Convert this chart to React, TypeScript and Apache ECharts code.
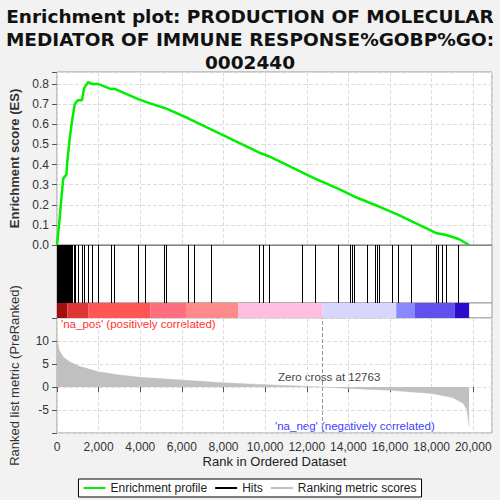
import React, { useEffect, useRef } from "react";
import * as echarts from "echarts";

const hitRanks = [20,60,100,150,200,250,300,350,400,450,500,550,600,650,700,750,850,900,1000,1200,1300,1500,1700,2000,2600,2750,3900,4250,5150,5250,6300,6600,7400,9700,9900,10200,11800,12400,13500,14100,14200,14300,14900,15300,15400,15500,16100,16400,17000,18200,18300,18500,18700,19300];
const esPoints = [[0,0],[100,0.1],[200,0.22],[300,0.33],[450,0.35],[500,0.42],[600,0.52],[700,0.6],[850,0.7],[1000,0.72],[1200,0.72],[1300,0.78],[1500,0.81],[1700,0.8],[2000,0.8],[2600,0.775],[2800,0.775],[3900,0.725],[4300,0.71],[5200,0.68],[6300,0.63],[7400,0.575],[9700,0.46],[10200,0.44],[11800,0.36],[12400,0.33],[13500,0.28],[14300,0.24],[15500,0.19],[16400,0.15],[17000,0.12],[18200,0.06],[18700,0.05],[19300,0.03],[19800,0.0]];
const metricPoints = [[0,10.5],[100,8],[300,6.5],[600,5.5],[1000,4.6],[2000,3.3],[3000,2.6],[4000,2.1],[6000,1.5],[8000,0.9],[10000,0.5],[12763,0],[14000,-0.3],[16000,-0.7],[18000,-1.4],[19000,-2.3],[19500,-3.5],[19700,-5],[19800,-8.5]];
const bandSegments: [number, number, string][] = [[0,500,"#a01010"],[500,1500,"#e03535"],[1500,4500,"#ff5555"],[4500,6200,"#ff6e7e"],[6200,8700,"#ff8a8a"],[8700,12763,"#ffbde0"],[12763,16300,"#d6d6ff"],[16300,17200,"#8888ff"],[17200,19100,"#6050ee"],[19100,19800,"#2a0dcc"]];
const zeroCross = 12763;

export default function App() {
  const ref = useRef<HTMLDivElement>(null);
  useEffect(() => {
    const chart = echarts.init(ref.current!, null, { renderer: "svg" });
    const L = 57, R = 8;
    const grids = [
      { left: L, right: R, top: 72, height: 173 },
      { left: L, right: R, top: 245, height: 58 },
      { left: L, right: R, top: 303, height: 15 },
      { left: L, right: R, top: 318, height: 115 },
    ].map(g => ({ ...g, show: true, backgroundColor: "#fff", borderColor: "#999", borderWidth: 1 }));
    const xBase = (i: number, show: boolean) => ({
      type: "value", gridIndex: i, min: 0, max: 20900, interval: 2000,
      axisLabel: { show, color: "#333", fontSize: 12, formatter: (v: number) => v.toLocaleString("en-US") },
      axisTick: { show }, axisLine: { show: false },
      splitLine: { show: i === 0 || i === 3, lineStyle: { type: "dashed", color: "#ddd" } },
      name: show ? "Rank in Ordered Dataset" : "", nameLocation: "middle", nameGap: 22,
      nameTextStyle: { fontSize: 13, color: "#222" },
    });
    chart.setOption({
      animation: false,
      backgroundColor: "#f2f2f2",
      title: {
        text: "Enrichment plot: PRODUCTION OF MOLECULAR\nMEDIATOR OF IMMUNE RESPONSE%GOBP%GO:\n0002440",
        left: "center", top: 0,
        textStyle: { fontSize: 18.5, fontWeight: "bold", color: "#111", lineHeight: 23, fontFamily: "DejaVu Sans" },
      },
      grid: grids,
      xAxis: [xBase(0, false), xBase(1, false), xBase(2, false), xBase(3, true)],
      yAxis: [
        { type: "value", gridIndex: 0, min: 0, max: 0.86, interval: 0.1, axisLine: { show: false },
          axisLabel: { color: "#333", fontSize: 12, formatter: (v: number) => (v > 0.85 ? "" : v.toFixed(1)) },
          splitLine: { lineStyle: { type: "dashed", color: "#ddd" } },
          name: "Enrichment score (ES)", nameLocation: "middle", nameGap: 36, nameTextStyle: { fontWeight: "bold", fontSize: 13, color: "#333" } },
        { type: "value", gridIndex: 1, min: 0, max: 1, show: false },
        { type: "value", gridIndex: 2, min: 0, max: 1, show: false },
        { type: "value", gridIndex: 3, min: -10, max: 15, interval: 5, axisLine: { show: false },
          axisLabel: { color: "#333", fontSize: 12, formatter: (v: number) => (v < -9 || v > 14 ? "" : String(v)) },
          splitLine: { lineStyle: { type: "dashed", color: "#ddd" } },
          name: "Ranked list metric (PreRanked)", nameLocation: "middle", nameGap: 36, nameTextStyle: { fontSize: 13, color: "#333" } },
      ],
      legend: {
        bottom: 3, left: "center", itemWidth: 22, itemHeight: 2, borderColor: "#000", borderWidth: 1,
        padding: [3, 5], backgroundColor: "#fff", textStyle: { fontSize: 12, color: "#222" },
        data: [
          { name: "Enrichment profile", icon: "rect", itemStyle: { color: "#00ee00" } },
          { name: "Hits", icon: "rect", itemStyle: { color: "#000" } },
          { name: "Ranking metric scores", icon: "rect", itemStyle: { color: "#c0c0c0" } },
        ],
      },
      series: [
        { name: "Enrichment profile", type: "line", xAxisIndex: 0, yAxisIndex: 0, data: esPoints, showSymbol: false,
          lineStyle: { color: "#00ee00", width: 2.5 }, itemStyle: { color: "#00ee00" },
          markLine: { silent: true, symbol: "none", label: { show: false }, lineStyle: { color: "#888", type: "solid", width: 1 }, data: [{ yAxis: 0 }] } },
        { name: "Hits", type: "line", xAxisIndex: 1, yAxisIndex: 1, data: [], itemStyle: { color: "#000" },
          markLine: { silent: true, symbol: "none", label: { show: false }, lineStyle: { color: "#000", type: "solid", width: 1 },
            data: hitRanks.map(r => [{ coord: [r, 0] }, { coord: [r, 1] }]) } },
        { type: "line", xAxisIndex: 2, yAxisIndex: 2, data: [],
          markArea: { silent: true, data: bandSegments.map(([a, b, c]) => [{ coord: [a, 0], itemStyle: { color: c } }, { coord: [b, 1] }]) } },
        { name: "Ranking metric scores", type: "line", xAxisIndex: 3, yAxisIndex: 3, data: metricPoints, showSymbol: false,
          lineStyle: { width: 0.5, color: "#c0c0c0" }, areaStyle: { color: "#c0c0c0", opacity: 1 }, itemStyle: { color: "#c0c0c0" },
          markLine: { silent: true, symbol: "none", label: { show: false }, lineStyle: { color: "#999", type: "dashed", width: 1 },
            data: [{ xAxis: zeroCross }] } },
      ],
      graphic: [
        { type: "text", left: 61, top: 318, style: { text: "'na_pos' (positively correlated)", fill: "#ff3030", fontSize: 11.5 } },
        { type: "text", left: 278, top: 371, style: { text: "Zero cross at 12763", fill: "#444", fontSize: 11.5 } },
        { type: "text", left: 275, top: 420, style: { text: "'na_neg' (negatively correlated)", fill: "#4040ff", fontSize: 11.5 } },
      ],
    });
    return () => chart.dispose();
  }, []);
  return <div ref={ref} style={{ position: "absolute", left: 0, top: 0, width: 500, height: 500 }} />;
}
